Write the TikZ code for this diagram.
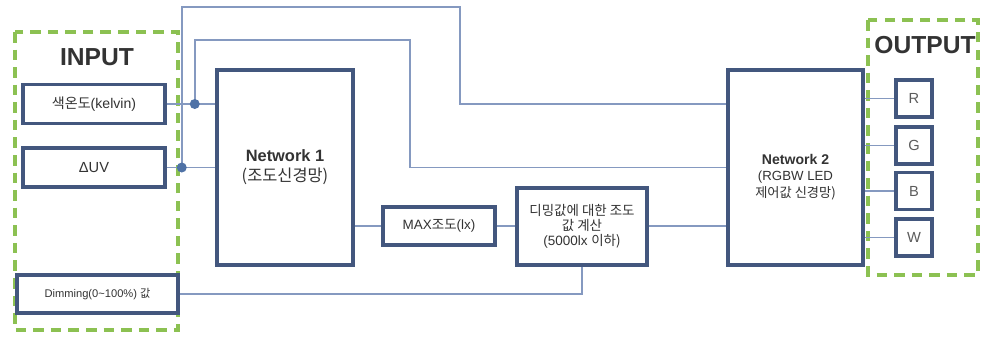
\documentclass[tikz,border=0pt]{standalone}
\usepackage{fontspec}
\setmainfont{Liberation Sans}
\newfontfamily\kr{Noto Sans CJK KR}
\usetikzlibrary{calc}
\definecolor{boxblue}{HTML}{43577E}
\definecolor{wireblue}{HTML}{8599C0}
\definecolor{dotblue}{HTML}{4F72A6}
\definecolor{dashgreen}{HTML}{8CC152}
\definecolor{txtgray}{HTML}{333333}

\begin{document}
\begin{tikzpicture}[x=0.03cm, y=-0.03cm,
  blk/.style={draw=boxblue, line width=3pt, fill=white, text=txtgray, align=center, inner sep=0pt},
  wire/.style={wireblue, line width=1.6pt},
  group/.style={dashgreen, line width=3.2pt, dash pattern=on 9pt off 6pt},
  small/.style={font=\fontsize{11.5}{13}\selectfont},
  title/.style={text=txtgray, font=\fontsize{21}{24}\selectfont\bfseries}]

\useasboundingbox (0,0) rectangle (982,337);

%% Groups
\draw[group] (15,32) rectangle (178,330);
\node[title] (intitle) at (97,57) {INPUT};
\draw[group] (868,20) rectangle (978,275);
\node[title] (outtitle) at (925,45) {OUTPUT};

%% Inputs
\node[blk, font=\fontsize{12}{14}\selectfont, minimum width=4.26cm, minimum height=1.17cm] (temp) at (94,104) {{\kr 색온도}(kelvin)};
\node[blk, font=\fontsize{12.5}{14}\selectfont, minimum width=4.26cm, minimum height=1.17cm] (duv) at (94,167.5) {ΔUV};
\node[blk, font=\fontsize{9.5}{12}\selectfont, minimum width=4.83cm, minimum height=1.14cm] (dim) at (97.5,294) {Dimming(0\textasciitilde100\%) {\kr 값}};

%% Networks
\node[blk, font=\fontsize{14}{17}\selectfont, minimum width=4.08cm, minimum height=5.85cm] (net1) at (285,167.5)
  {\textbf{Network 1}\\{\kr (조도신경망)}};
\node[blk, minimum width=4.05cm, minimum height=5.85cm] (net2) at (795.5,167.5) {};
\node[text=txtgray, align=center, font=\fontsize{11.3}{14}\selectfont] (net2txt) at (795.5,177)
  {\textbf{\fontsize{12}{14}\selectfont Network 2}\\(RGBW LED\\{\kr 제어값 신경망)}};

%% Middle blocks
\node[blk, small, minimum width=3.36cm, minimum height=1.14cm] (maxlx) at (439,226) {MAX{\kr 조도}(lx)};
\node[blk, small, minimum width=3.9cm, minimum height=2.31cm] (calc) at (582,226.5)
  {{\kr 디밍값에 대한 조도}\\{\kr 값 계산}\\(5000lx {\kr 이하)}};

%% Outputs
\foreach \c/\y in {R/98.5, G/145.5, B/191, W/237.5}{
  \node[blk, font=\fontsize{12.5}{14}\selectfont, text=txtgray!80, minimum width=1.08cm, minimum height=1.11cm] (\c) at (914,\y) {\c};
  \draw[wire] (\c.west -| net2.east) -- (\c.west);
}

%% Junctions
\path (temp.east) ++(28,0) coordinate (j1);
\path (duv.east) ++(15,0) coordinate (j2);

% Wires into Network 1
\draw[wire] (temp.east) -- (temp.east -| net1.west);
\draw[wire] (duv.east) -- (duv.east -| net1.west);

% Bypass wires to Network 2
\draw[wire] (j1) |- (410,40) |- (j2 -| net2.west);
\draw[wire] (j2) |- (460,7) |- (j1 -| net2.west);

\fill[dotblue] (j1) circle (5);
\fill[dotblue] (j2) circle (5);

% Chain through max lux and calc
\draw[wire] (maxlx.west -| net1.east) -- (maxlx.west);
\draw[wire] (maxlx.east) -- (calc.west |- maxlx.east);
\draw[wire] (calc.east |- maxlx.east) -- (net2.west |- maxlx.east);
\draw[wire] (calc.south) |- (dim.east);

\end{tikzpicture}
\end{document}
